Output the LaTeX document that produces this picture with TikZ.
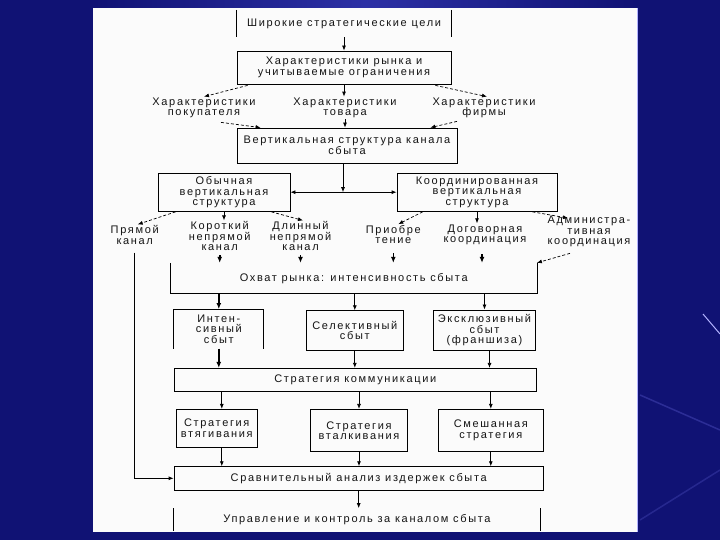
\documentclass[tikz,border=0pt]{standalone}
\usepackage{fontspec}
\setmainfont{Liberation Sans}[LetterSpace=15]
\usetikzlibrary{arrows.meta,calc}
\definecolor{navy}{RGB}{16,18,116}
\definecolor{navylight}{RGB}{44,48,165}
\definecolor{panel}{RGB}{251,251,251}
\definecolor{ink}{RGB}{20,20,20}
\begin{document}
\begin{tikzpicture}[x=1pt,y=-1pt,
  every node/.style={font=\fontsize{11pt}{10.5pt}\selectfont, text=ink, align=center, inner sep=1pt},
  bx/.style={draw=black, line width=0.8pt, inner sep=0pt},
  nb/.style={draw=none, inner sep=0pt},
  ln/.style={line width=0.8pt, draw=black},
  arr/.style={line width=0.8pt, draw=black, -{Latex[length=5pt,width=4pt]}},
  barr/.style={line width=1.6pt, draw=black, -{Latex[length=6pt,width=5pt]}},
  darr/.style={line width=0.7pt, draw=black, dash pattern=on 3pt off 2pt, -{Latex[length=5pt,width=4pt]}},
  ]
\useasboundingbox (0,0) rectangle (720,540);
\fill[navy] (0,0) rectangle (720,540);
\shade[left color=navy, right color=navy, middle color=navylight] (93,0) rectangle (637,8);
\draw[white!70!blue, line width=1pt] (703,314) -- (720,334);
\draw[blue!50!white, opacity=0.25, line width=1.5pt] (640,395) -- (720,430);
\draw[blue!50!white, opacity=0.2, line width=1.5pt] (640,520) -- (720,470);
\fill[panel] (93,8) rectangle (637,532);
\draw[blue!30!white, line width=1pt] (637.5,8) -- (637.5,532);

% nodes
\node[nb, minimum width=214pt, minimum height=27pt] (goals) at (344,23.5) {Широкие стратегические цели};
\node[bx, minimum width=214pt, minimum height=33pt] (market) at (344,67.5) {Характеристики рынка и\\учитываемые ограничения};
\node (buyer) at (204,108) {Характеристики\\покупателя};
\node (product) at (345,108) {Характеристики\\товара};
\node (firm) at (484,108) {Характеристики\\фирмы};
\node[bx, minimum width=220pt, minimum height=35pt] (vert) at (347,145.5) {Вертикальная структура канала\\сбыта};
\node[bx, minimum width=132pt, minimum height=38.5pt] (obych) at (224,192.2) {Обычная\\вертикальная\\структура};
\node[bx, minimum width=160pt, minimum height=38.5pt] (koord) at (477,192.2) {Координированная\\вертикальная\\структура};
\node (pryam) at (134.7,235) {Прямой\\канал};
\node (korot) at (219.7,236.3) {Короткий\\непрямой\\канал};
\node (dlin) at (300.5,236.3) {Длинный\\непрямой\\канал};
\node (priob) at (393.3,234.7) {Приобре\\тение};
\node (dogov) at (485,234.7) {Договорная\\координация};
\node (admin) at (589,231.7) {Администра-\\тивная\\координация};
\node[nb, minimum width=366pt, minimum height=30.3pt] (ohvat) at (353.7,278.2) {Охват рынка: интенсивность сбыта};
\node[nb, minimum width=89.7pt, minimum height=39pt] (intens) at (218.8,328.8) {Интен-\\сивный\\сбыт};
\node[bx, minimum width=97pt, minimum height=40pt] (selekt) at (354.8,330.7) {Селективный\\сбыт};
\node[bx, minimum width=102.4pt, minimum height=40.7pt] (exkl) at (484.5,330.3) {Эксклюзивный\\сбыт\\(франшиза)};
\node[bx, minimum width=362.7pt, minimum height=23.4pt] (komm) at (355.3,380) {Стратегия коммуникации};
\node[bx, minimum width=81pt, minimum height=37.7pt] (vytag) at (216.8,428.2) {Стратегия\\втягивания};
\node[bx, minimum width=96.6pt, minimum height=42.4pt] (vtalk) at (359,430.5) {Стратегия\\вталкивания};
\node[bx, minimum width=105pt, minimum height=42.4pt] (smesh) at (490.8,430.5) {Смешанная\\стратегия};
\node[bx, minimum width=369.3pt, minimum height=23.3pt] (sravn) at (358.7,478.3) {Сравнительный анализ издержек сбыта};
\node[nb, minimum width=366pt, minimum height=22.7pt] (uprav) at (357,519.7) {Управление и контроль за каналом сбыта};

% partial borders
\draw[ln] (goals.north west) -- (goals.south west) (goals.north east) -- (goals.south east);
\draw[ln] (ohvat.north west) -- (ohvat.south west) -- (ohvat.south east) -- (ohvat.north east);
\draw[ln] (intens.south west) -- (intens.north west) -- (intens.north east) -- (intens.south east);
\draw[ln] (uprav.north west) -- (uprav.south west) (uprav.north east) -- (uprav.south east);

% connectors top
\draw[arr] (goals.south) -- (market.north);
\draw[darr] ($(market.south west)+(11,1)$) -- (buyer.north);
\draw[arr] (market.south) -- (market.south |- product.north);
\draw[darr] ($(market.south east)+(-16,1)$) -- ($(firm.north)+(3,0)$);
\draw[darr] ($(buyer.south)+(17,3)$) -- ($(vert.north west)+(24,0)$);
\draw[arr] (product.south) -- (product.south |- vert.north);
\draw[darr] ($(firm.south)+(-27,2)$) -- ($(vert.north east)+(-27,0)$);
\draw[arr] ($(vert.south)+(-4,0)$) -- ($(vert.south |- obych.east)+(-4,0)$);
\draw[line width=0.8pt, {Latex[length=5pt,width=4pt]}-{Latex[length=5pt,width=4pt]}] (obych.east) -- (koord.west);

% second level
\draw[darr] ($(obych.south west)+(18,0)$) -- ($(pryam.north)+(3,0)$);
\draw[arr] (obych.south) -- (obych.south |- korot.north);
\draw[darr] ($(obych.south east)+(-19,0)$) -- ($(dlin.north)+(2.5,0)$);
\draw[darr] ($(koord.south west)+(26,0)$) -- ($(priob.north)+(5,0)$);
\draw[arr] (koord.south) -- (koord.south |- dogov.north);
\draw[darr] ($(koord.south east)+(-25,0)$) -- ($(admin.north)+(-21,3)$);

% into coverage
\draw[barr] ($(korot.south)+(0,3)$) -- (korot.south |- ohvat.north);
\draw[barr] ($(dlin.south)+(0,3)$) -- (dlin.south |- ohvat.north);
\draw[barr] ($(priob.south)+(0,8)$) -- (priob.south |- ohvat.north);
\draw[barr] ($(dogov.south)+(-3,8)$) -- ($(dogov.south |- ohvat.north)+(-3,0)$);
\draw[darr] ($(admin.south)+(-19,5)$) -- (ohvat.north east);

% coverage to sales types
\draw[barr] (ohvat.south -| intens.north) -- (intens.north);
\draw[arr] (ohvat.south -| selekt.north) -- (selekt.north);
\draw[arr] (ohvat.south -| exkl.north) -- (exkl.north);
\draw[barr] (intens.south) -- (intens.south |- komm.north);
\draw[arr] (selekt.south) -- (selekt.south |- komm.north);
\draw[arr] ($(exkl.south)+(5,0)$) -- ($(exkl.south |- komm.north)+(5,0)$);

% communication strategies
\draw[arr] ($(komm.south -| vytag.north)+(5,0)$) -- ($(vytag.north)+(5,0)$);
\draw[arr] (komm.south -| vtalk.north) -- (vtalk.north);
\draw[arr] (komm.south -| smesh.north) -- (smesh.north);
\draw[arr] ($(vytag.south)+(5,0)$) -- ($(vytag.south |- sravn.north)+(5,0)$);
\draw[arr] (vtalk.south) -- (vtalk.south |- sravn.north);
\draw[arr] (smesh.south) -- (smesh.south |- sravn.north);
\draw[arr] (sravn.south) -- (sravn.south |- uprav.north);
\draw[arr] ($(pryam.south)+(0,7)$) |- (sravn.west);
\end{tikzpicture}
\end{document}
